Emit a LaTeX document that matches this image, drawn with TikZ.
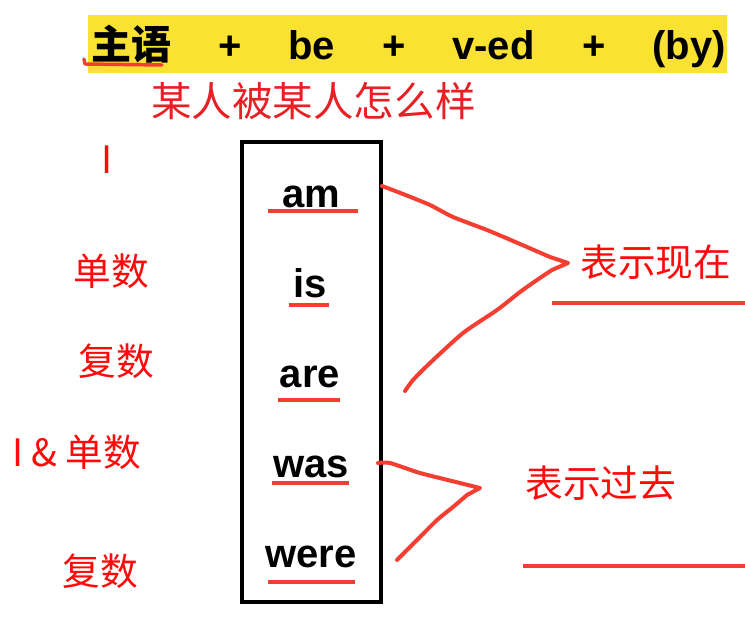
\documentclass[tikz,border=0pt]{standalone}
\usepackage{fontspec}
\setmainfont{Liberation Sans}
\newfontfamily\cjk{Noto Sans CJK SC}
\definecolor{barY}{RGB}{249,226,50}
\definecolor{penR}{RGB}{245,62,50}
\definecolor{txtR}{RGB}{255,10,10}
\definecolor{topR}{RGB}{232,32,38}
\begin{document}
\begin{tikzpicture}[x=0.75pt,y=-0.75pt,
  eng/.style={inner sep=0pt,anchor=base,font=\fontsize{30}{36}\selectfont\bfseries},
  lab/.style={inner sep=0pt,anchor=base west,text=txtR,font=\cjk\fontsize{28.3}{34}\selectfont},
  pen/.style={draw=penR,line width=3pt,line cap=round,line join=round},
  uline/.style={draw=penR,line width=2.6pt}]
\useasboundingbox (0,0) rectangle (745,624);
% top bar
\fill[barY] (88,15) rectangle (727,73);
\node[eng,anchor=base west,font=\cjk\fontsize{30}{36}\selectfont\bfseries] (subj) at (91,60) {主语};
\node[eng] (p1) at (230,60) {+};
\node[eng] (be) at (311.5,60) {be};
\node[eng] (p2) at (394,60) {+};
\node[eng] (ved) at (493.5,60) {v-ed};
\node[eng] (p3) at (594,60) {+};
\node[eng] (by) at (689,60) {(by)};
\draw[pen,line width=2.6pt] (84,59) -- (85,64) -- (162,65);
\node[lab,text=topR,font=\cjk\fontsize{30.4}{36}\selectfont] (mean) at (151,117) {某人被某人怎么样};
% box
\draw[line width=3pt] (242,142) rectangle (381,602);
\node[eng] (am) at (311,207) {am};
\node[eng] (is) at (310,297) {is};
\node[eng] (are) at (310,387) {are};
\node[eng] (was) at (311,477) {was};
\node[eng] (were) at (311,567) {were};
\draw[uline] (268,211) -- (358,211);
\draw[uline] (289,305) -- (329,305);
\draw[uline] (278,400) -- (340,400);
\draw[uline] (272,483) -- (349,483);
\draw[uline] (268,582) -- (355,582);
% left labels
\node[lab] (lI) at (101,173) {I};
\node[lab] (l1) at (73,285) {单数};
\node[lab] (l2) at (78,375) {复数};
\node[lab] (l3) at (12,466) {I \& 单数};
\node[lab] (l4) at (62,585) {复数};
% right labels
\node[lab] (now) at (580,276) {表示现在};
\node[lab] (past) at (525,497) {表示过去};
\draw[uline] (552,303) -- (745,303);
\draw[uline] (523,566) -- (745,566);
% hand-drawn connectors
\coordinate (apexNow) at (568,263);
\coordinate (apexPast) at (480,488);
\draw[pen] plot[smooth,tension=0.4] coordinates {(382,186) (403,194) (430,205) (453,217) (487,230) (520,244) (550,257)} -- (apexNow)
  -- plot[smooth,tension=0.4] coordinates {(552,270) (537,280) (520,292) (497,310) (463,333) (430,363) (413,380) (405,391)};
\draw[pen] plot[smooth,tension=0.4] coordinates {(378,463) (390,463) (420,473) (460,483)} -- (apexPast)
  -- plot[smooth,tension=0.4] coordinates {(467,495) (453,507) (437,520) (417,540) (397,560)};
\end{tikzpicture}
\end{document}
